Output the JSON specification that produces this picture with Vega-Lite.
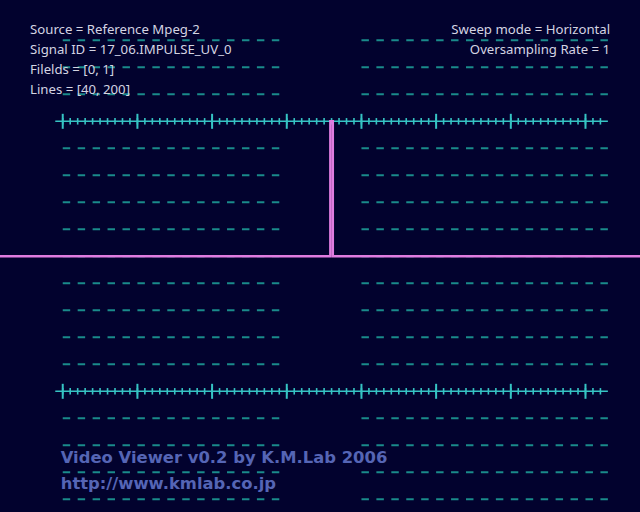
{
  "$schema": "https://vega.github.io/schema/vega-lite/v6.json",
  "width": 640,
  "height": 512,
  "autosize": {"type": "none"},
  "padding": 0,
  "background": "#02022e",
  "config": {"view": {"stroke": null}},
  "datasets": {
    "grid": [
      {"v": 0.8}, {"v": 0.7}, {"v": 0.6}, {"v": 0.4}, {"v": 0.3}, {"v": 0.2}, {"v": 0.1},
      {"v": 0.0}, {"v": -0.1}, {"v": -0.2}, {"v": -0.3}, {"v": -0.4},
      {"v": -0.6}, {"v": -0.7}, {"v": -0.8}, {"v": -0.9}
    ],
    "ticks": [
      {"s": 0}, {"s": 10}, {"s": 20}, {"s": 30}, {"s": 40}, {"s": 50}, {"s": 60}, {"s": 70}, {"s": 80}, {"s": 90},
      {"s": 100}, {"s": 110}, {"s": 120}, {"s": 130}, {"s": 140}, {"s": 150}, {"s": 160}, {"s": 170}, {"s": 180}, {"s": 190},
      {"s": 200}, {"s": 210}, {"s": 220}, {"s": 230}, {"s": 240}, {"s": 250}, {"s": 260}, {"s": 270}, {"s": 280}, {"s": 290},
      {"s": 300}, {"s": 310}, {"s": 320}, {"s": 330}, {"s": 340}, {"s": 350}, {"s": 360}, {"s": 370}, {"s": 380}, {"s": 390},
      {"s": 400}, {"s": 410}, {"s": 420}, {"s": 430}, {"s": 440}, {"s": 450}, {"s": 460}, {"s": 470}, {"s": 480}, {"s": 490},
      {"s": 500}, {"s": 510}, {"s": 520}, {"s": 530}, {"s": 540}, {"s": 550}, {"s": 560}, {"s": 570}, {"s": 580}, {"s": 590},
      {"s": 600}, {"s": 610}, {"s": 620}, {"s": 630}, {"s": 640}, {"s": 650}, {"s": 660}, {"s": 670}, {"s": 680}, {"s": 690},
      {"s": 700}, {"s": 710}, {"s": 720}
    ],
    "wave": [
      {"i": 0, "s": -84, "v": 0},
      {"i": 1, "s": 358.3, "v": 0},
      {"i": 2, "s": 358.3, "v": 0.5},
      {"i": 3, "s": 361.7, "v": 0.5},
      {"i": 4, "s": 361.7, "v": 0},
      {"i": 5, "s": 773, "v": 0}
    ]
  },
  "layer": [
    {
      "data": {"name": "grid"},
      "mark": {"type": "rule", "color": "#1a8b8b", "strokeWidth": 2, "strokeDash": [7.468, 7.468]},
      "encoding": {
        "x": {"datum": 0, "type": "quantitative", "scale": {"domain": [-84, 773], "nice": false, "zero": false}, "axis": null},
        "x2": {"datum": 290},
        "y": {"field": "v", "type": "quantitative", "scale": {"domain": [-0.947, 0.9493], "nice": false, "zero": false}, "axis": null}
      }
    },
    {
      "data": {"name": "grid"},
      "mark": {"type": "rule", "color": "#1a8b8b", "strokeWidth": 2, "strokeDash": [7.468, 7.468]},
      "encoding": {
        "x": {"datum": 400, "type": "quantitative"},
        "x2": {"datum": 730},
        "y": {"field": "v", "type": "quantitative"}
      }
    },
    {
      "data": {"values": [{"v": 0.5}, {"v": -0.5}]},
      "mark": {"type": "rule", "color": "#36c4c4", "strokeWidth": 1.5},
      "encoding": {
        "x": {"datum": -10, "type": "quantitative"},
        "x2": {"datum": 730},
        "y": {"field": "v", "type": "quantitative"}
      }
    },
    {
      "data": {"name": "ticks"},
      "mark": {"type": "tick", "orient": "vertical", "color": "#36c4c4", "size": 6.5, "thickness": 1.6, "opacity": 1},
      "encoding": {
        "x": {"field": "s", "type": "quantitative"},
        "y": {"datum": 0.5, "type": "quantitative"}
      }
    },
    {
      "data": {"name": "ticks"},
      "mark": {"type": "tick", "orient": "vertical", "color": "#36c4c4", "size": 6.5, "thickness": 1.6, "opacity": 1},
      "encoding": {
        "x": {"field": "s", "type": "quantitative"},
        "y": {"datum": -0.5, "type": "quantitative"}
      }
    },
    {
      "data": {"name": "ticks"},
      "transform": [{"filter": "datum.s % 100 == 0"}],
      "mark": {"type": "tick", "orient": "vertical", "color": "#36c4c4", "size": 15, "thickness": 2, "opacity": 1},
      "encoding": {
        "x": {"field": "s", "type": "quantitative"},
        "y": {"datum": 0.5, "type": "quantitative"}
      }
    },
    {
      "data": {"name": "ticks"},
      "transform": [{"filter": "datum.s % 100 == 0"}],
      "mark": {"type": "tick", "orient": "vertical", "color": "#36c4c4", "size": 15, "thickness": 2, "opacity": 1},
      "encoding": {
        "x": {"field": "s", "type": "quantitative"},
        "y": {"datum": -0.5, "type": "quantitative"}
      }
    },
    {
      "data": {"name": "wave"},
      "mark": {"type": "line", "color": "#e07ce0", "strokeWidth": 2.4, "interpolate": "linear"},
      "encoding": {
        "x": {"field": "s", "type": "quantitative"},
        "y": {"field": "v", "type": "quantitative"},
        "order": {"field": "i", "type": "quantitative"}
      }
    },
    {
      "data": {"values": [{"label": "Source = Reference Mpeg-2\nSignal ID = 17_06.IMPULSE_UV_0\nFilelds = [0, 1]\nLines = [40, 200]"}]},
      "mark": {"type": "text", "align": "left", "baseline": "alphabetic", "font": "Noto Sans", "fontSize": 13.2, "lineHeight": 20, "lineBreak": "\n", "color": "#d4d4e2"},
      "encoding": {
        "x": {"datum": -43.8, "type": "quantitative"},
        "y": {"datum": 0.8233, "type": "quantitative"},
        "text": {"field": "label"}
      }
    },
    {
      "data": {"values": [{"label": "Sweep mode = Horizontal\nOversampling Rate = 1"}]},
      "mark": {"type": "text", "align": "right", "baseline": "alphabetic", "font": "Noto Sans", "fontSize": 13.2, "lineHeight": 20, "lineBreak": "\n", "color": "#d4d4e2"},
      "encoding": {
        "x": {"datum": 733, "type": "quantitative"},
        "y": {"datum": 0.8233, "type": "quantitative"},
        "text": {"field": "label"}
      }
    },
    {
      "data": {"values": [{"label": "Video Viewer v0.2 by K.M.Lab 2006\nhttp://www.kmlab.co.jp"}]},
      "mark": {"type": "text", "align": "left", "baseline": "alphabetic", "font": "DejaVu Sans", "fontWeight": "bold", "fontSize": 16.4, "lineHeight": 26, "lineBreak": "\n", "color": "#5565b5"},
      "encoding": {
        "x": {"datum": -2.7, "type": "quantitative"},
        "y": {"datum": -0.7667, "type": "quantitative"},
        "text": {"field": "label"}
      }
    }
  ]
}
